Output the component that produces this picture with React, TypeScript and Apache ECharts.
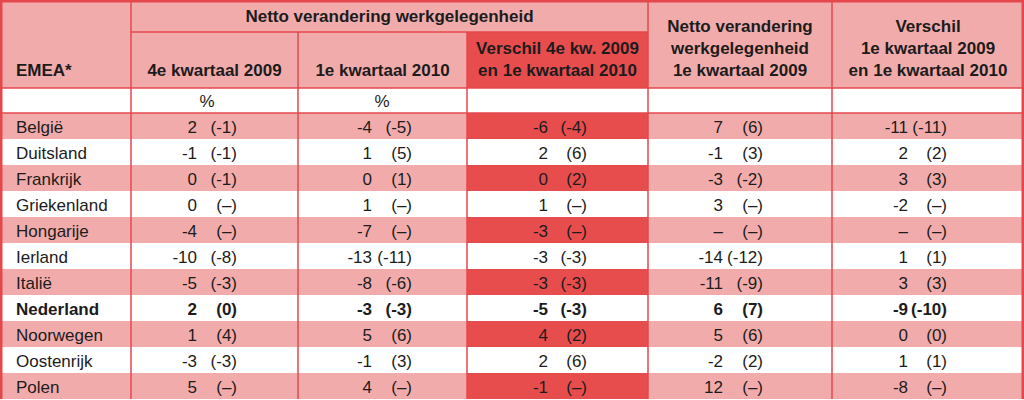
import React, { useEffect, useRef } from "react";
import * as echarts from "echarts";

// ---- Data ----
const countries = [
  "België", "Duitsland", "Frankrijk", "Griekenland", "Hongarije", "Ierland",
  "Italië", "Nederland", "Noorwegen", "Oostenrijk", "Polen",
];
const boldCountry = "Nederland";

// Netto verandering werkgelegenheid 4e kwartaal 2009 (value, previous in brackets)
const q4_2009 = [2, -1, 0, 0, -4, -10, -5, 2, 1, -3, 5];
const q4_2009Prev = [-1, -1, -1, null, null, -8, -3, 0, 4, -3, null];
// 1e kwartaal 2010
const q1_2010 = [-4, 1, 0, 1, -7, -13, -8, -3, 5, -1, 4];
const q1_2010Prev = [-5, 5, 1, null, null, -11, -6, -3, 6, 3, null];
// Verschil 4e kw. 2009 en 1e kwartaal 2010
const diffQ4Q1 = [-6, 2, 0, 1, -3, -3, -3, -5, 4, 2, -1];
const diffQ4Q1Prev = [-4, 6, 2, null, null, -3, -3, -3, 2, 6, null];
// Netto verandering werkgelegenheid 1e kwartaal 2009
const q1_2009 = [7, -1, -3, 3, null, -14, -11, 6, 5, -2, 12];
const q1_2009Prev = [6, 3, -2, null, null, -12, -9, 7, 6, 2, null];
// Verschil 1e kwartaal 2009 en 1e kwartaal 2010
const diffQ1Q1 = [-11, 2, 3, -2, null, 1, 3, -9, 0, 1, -8];
const diffQ1Q1Prev = [-11, 2, 3, null, null, 1, 3, -10, 0, 1, null];

const columnValues = [q4_2009, q1_2010, diffQ4Q1, q1_2009, diffQ1Q1];
const columnPrev = [q4_2009Prev, q1_2010Prev, diffQ4Q1Prev, q1_2009Prev, diffQ1Q1Prev];

const groupHeader = "Netto verandering werkgelegenheid";
const firstHeader = "EMEA*";
const columnHeaders = [
  ["4e kwartaal 2009"],
  ["1e kwartaal 2010"],
  ["Verschil 4e kw. 2009", "en 1e kwartaal 2010"],
  ["Netto verandering", "werkgelegenheid", "1e kwartaal 2009"],
  ["Verschil", "1e kwartaal 2009", "en 1e kwartaal 2010"],
];
const unitLabels = ["%", "%", "", "", ""];

// ---- Layout / style ----
const colEdges = [0, 131, 298, 467, 648, 832, 1024];
const groupRowBottom = 32;
const headerBottom = 88;
const unitBottom = 113;
const rowH = 26;
const valRightOff = [66, 74, 81, 75, 76];
const parenRightOff = [106, 114, 120, 115, 115];
const unitX = [207, 382, 0, 0, 0];
const highlightCol = 2;

const PINK = "#f2abab";
const RED = "#e84d4e";
const LINE = "#e5484c";
const WHITE = "#ffffff";
const TEXT = "#1c1c1c";
const FONT = "'Liberation Sans', Arial, Helvetica, sans-serif";
const FS = 17;

const fmt = (v: number | null) => (v === null ? "–" : String(v));

function buildGraphic() {
  const els: any[] = [];
  const W = colEdges[colEdges.length - 1];
  const tableBottom = unitBottom + countries.length * rowH;

  const rect = (x: number, y: number, w: number, h: number, fill: string, z = 1) =>
    els.push({ type: "rect", z, shape: { x, y, width: w, height: h }, style: { fill } });
  const line = (x1: number, y1: number, x2: number, y2: number, lw = 1.5, z = 5) =>
    els.push({ type: "line", z, shape: { x1, y1, x2, y2 }, style: { stroke: LINE, lineWidth: lw } });
  const text = (t: string, x: number, y: number, align: string, bold: boolean, z = 10) =>
    els.push({
      type: "text",
      z,
      x,
      y,
      style: {
        text: t,
        x: 0,
        y: 0,
        textAlign: align,
        textVerticalAlign: "middle",
        align,
        verticalAlign: "middle",
        fontFamily: FONT,
        fontSize: FS,
        fontWeight: bold ? "bold" : "normal",
        fill: TEXT,
      },
    });

  // header background
  rect(0, 0, W, headerBottom, PINK);
  rect(colEdges[highlightCol + 1], groupRowBottom, colEdges[highlightCol + 2] - colEdges[highlightCol + 1], headerBottom - groupRowBottom, RED, 2);
  // unit row
  rect(0, headerBottom, W, unitBottom - headerBottom, WHITE);

  // data rows
  countries.forEach((c, i) => {
    const y = unitBottom + i * rowH;
    const shaded = i % 2 === 0;
    rect(0, y, W, rowH, shaded ? PINK : WHITE);
    if (shaded) {
      rect(colEdges[highlightCol + 1], y, colEdges[highlightCol + 2] - colEdges[highlightCol + 1], rowH, RED, 2);
    }
    const bold = c === boldCountry;
    const cy = y + rowH / 2 + 1;
    text(c, 16, cy, "left", bold);
    columnValues.forEach((vals, j) => {
      const left = colEdges[j + 1];
      text(fmt(vals[i]), left + valRightOff[j], cy, "right", bold);
      text("(" + fmt(columnPrev[j][i]) + ")", left + parenRightOff[j], cy, "right", bold);
    });
  });

  // lines
  line(colEdges[1], groupRowBottom, colEdges[4], groupRowBottom);
  line(0, headerBottom, W, headerBottom);
  line(0, unitBottom, W, unitBottom);
  colEdges.slice(1, -1).forEach((x, k) => {
    const yStart = k >= 1 && k <= 2 ? groupRowBottom : 0;
    line(x, yStart, x, tableBottom);
  });
  // outer border
  line(1, 0, 1, tableBottom, 3);
  line(W - 1, 0, W - 1, tableBottom, 3);
  line(0, 1, W, 1, 3);

  // header texts
  text(groupHeader, (colEdges[1] + colEdges[4]) / 2, 16, "center", true);
  text(firstHeader, 16, 70, "left", true);
  columnHeaders.forEach((lines, j) => {
    const cx = (colEdges[j + 1] + colEdges[j + 2]) / 2;
    const n = lines.length;
    lines.forEach((l, k) => {
      text(l, cx, 70 - (n - 1 - k) * 22, "center", true);
    });
  });
  unitLabels.forEach((u, j) => {
    if (u) text(u, unitX[j], (headerBottom + unitBottom) / 2 + 1, "center", false);
  });

  return els;
}

export default function App() {
  const ref = useRef<HTMLDivElement>(null);
  useEffect(() => {
    if (!ref.current) return;
    const chart = echarts.init(ref.current, undefined, { renderer: "svg" });
    chart.setOption({
      animation: false,
      backgroundColor: "#ffffff",
      graphic: { elements: buildGraphic() },
    });
    return () => chart.dispose();
  }, []);
  return (
    <div
      ref={ref}
      style={{ position: "fixed", left: 0, top: 0, width: 1024, height: 400 }}
    />
  );
}
